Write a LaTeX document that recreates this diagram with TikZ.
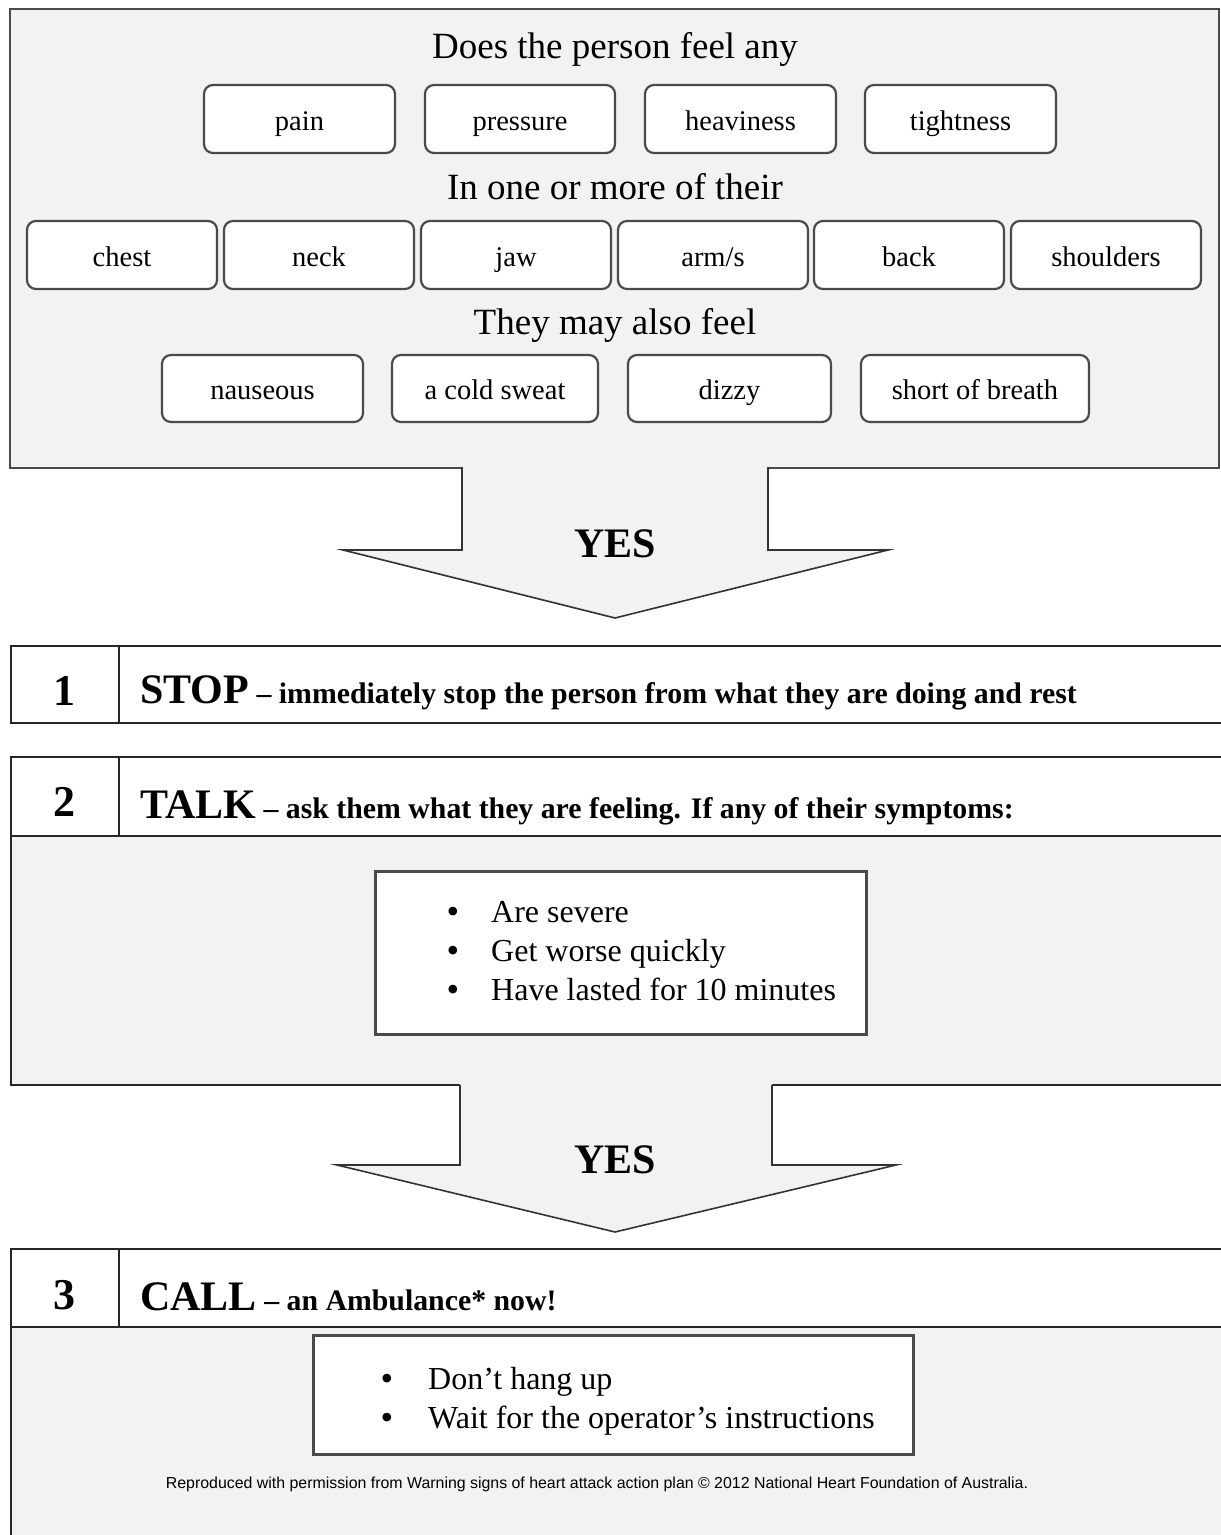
\documentclass[tikz,border=0pt]{standalone}
\usepackage{fontspec}
\setmainfont{Liberation Serif}
\newfontfamily\footfont{Liberation Sans}
\definecolor{panel}{HTML}{F2F2F2}
\definecolor{edge}{HTML}{4A4A4A}
\tikzset{
  pill/.style={draw=edge, line width=2.2pt, rounded corners=9pt, fill=white, inner sep=0pt,
    font=\fontsize{28.5}{30}\selectfont, text height=24pt, text depth=2pt, minimum height=68pt},
  hdr/.style={font=\fontsize{37}{40}\selectfont, anchor=base, inner sep=0pt},
  yes/.style={font=\bfseries\fontsize{42}{42}\selectfont, anchor=base, inner sep=0pt},
  num/.style={font=\bfseries\fontsize{44}{44}\selectfont, anchor=base, inner sep=0pt},
  steptxt/.style={anchor=base west, inner sep=0pt},
  item/.style={font=\fontsize{32}{34}\selectfont, anchor=base west, inner sep=0pt},
  bul/.style={font=\fontsize{36}{36}\selectfont, anchor=base, inner sep=0pt},
  rowline/.style={draw=black!85, line width=2pt},
  arrowshape/.style={fill=panel, draw=black!80, line width=1.6pt, line join=miter},
  listbox/.style={draw=edge, line width=3pt, fill=white, inner sep=0pt, anchor=north west}
}
\newcommand{\kw}[1]{{\fontsize{42}{42}\selectfont\bfseries #1}}
\newcommand{\rest}[1]{{\fontsize{29.8}{30}\selectfont\bfseries #1}}
\begin{document}
\begin{tikzpicture}[x=1pt,y=-1pt]
\useasboundingbox (0,0) rectangle (1221,1535);
% top panel
\node[draw=edge, line width=1.6pt, fill=panel, anchor=north west, inner sep=0pt,
  minimum width=1209pt, minimum height=459pt] (toppanel) at (9,8) {};
\node[hdr] (q1) at (615,58) {Does the person feel any};
\node[pill, minimum width=191pt] (pain) at (299.5,119) {pain};
\node[pill, minimum width=190pt] (pressure) at (520,119) {pressure};
\node[pill, minimum width=191pt] (heaviness) at (740.5,119) {heaviness};
\node[pill, minimum width=191pt] (tightness) at (960.5,119) {tightness};
\node[hdr] (q2) at (615,199) {In one or more of their};
\node[pill, minimum width=190pt] (chest) at (122,255) {chest};
\node[pill, minimum width=190pt] (neck) at (319,255) {neck};
\node[pill, minimum width=190pt] (jaw) at (516,255) {jaw};
\node[pill, minimum width=190pt] (arms) at (713,255) {arm/s};
\node[pill, minimum width=190pt] (back) at (909,255) {back};
\node[pill, minimum width=190pt] (shoulders) at (1106,255) {shoulders};
\node[hdr] (q3) at (615,334) {They may also feel};
\node[pill, minimum width=201pt, minimum height=67pt] (nauseous) at (262.5,388.5) {nauseous};
\node[pill, minimum width=206pt, minimum height=67pt] (sweat) at (495,388.5) {a cold sweat};
\node[pill, minimum width=203pt, minimum height=67pt] (dizzy) at (729.5,388.5) {dizzy};
\node[pill, minimum width=228pt, minimum height=67pt] (breath) at (975,388.5) {short of breath};
% arrow 1
\fill[panel] (463,462) rectangle (767,470);
\draw[arrowshape] (462,467) -- (462,550) -- (343,550) -- (615,618) -- (888,550) -- (768,550) -- (768,467);
\node[yes] (yes1) at (615,557) {YES};
% step 1
\draw[rowline, fill=white] (1230,646) -- (11,646) -- (11,723) -- (1230,723);
\draw[rowline] (119,646) -- (119,723);
\node[num] (n1) at (64,705) {1};
\node[steptxt] (s1) at (140,703) {\kw{STOP}\rest{ – immediately stop the person from what they are doing and rest}};
% step 2
\fill[white] (11,757) rectangle (1230,836);
\fill[panel] (11,836) rectangle (1230,1085);
\draw[rowline] (1230,757) -- (11,757) -- (11,1085) -- (460,1085);
\draw[rowline] (772,1085) -- (1230,1085);
\draw[rowline] (11,836) -- (1230,836);
\draw[rowline] (119,757) -- (119,836);
\node[num] (n2) at (64,816) {2};
\node[steptxt] (s2) at (140,818) {\kw{TALK}\rest{ – ask them what they are feeling. If any of their symptoms:}};
\node[listbox, minimum width=491pt, minimum height=163pt] (list1) at (374,870) {};
\node[bul] (b11) at (453,923) {•};
\node[item] (i11) at (491,922) {Are severe};
\node[bul] (b12) at (453,962) {•};
\node[item] (i12) at (491,961) {Get worse quickly};
\node[bul] (b13) at (453,1001) {•};
\node[item] (i13) at (491,1000) {Have lasted for 10 minutes};
% arrow 2
\draw[arrowshape] (460,1085) -- (460,1165) -- (337,1165) -- (615,1232) -- (896,1165) -- (772,1165) -- (772,1085);
\node[yes] (yes2) at (615,1173) {YES};
% step 3
\fill[white] (11,1249) rectangle (1230,1327);
\fill[panel] (11,1327) rectangle (1230,1540);
\draw[rowline] (1230,1249) -- (11,1249) -- (11,1540);
\draw[rowline] (11,1327) -- (1230,1327);
\draw[rowline] (119,1249) -- (119,1327);
\node[num] (n3) at (64,1309) {3};
\node[steptxt] (s3) at (140,1310) {\kw{CALL}\rest{ – an Ambulance* now!}};
\node[listbox, minimum width=600pt, minimum height=119pt] (list2) at (312,1334) {};
\node[bul] (b21) at (387,1390) {•};
\node[item] (i21) at (428,1389) {Don’t hang up};
\node[bul] (b22) at (387,1429) {•};
\node[item] (i22) at (428,1428) {Wait for the operator’s instructions};
\node[anchor=base, inner sep=0pt, font=\footfont\fontsize{15.9}{16}\selectfont] (foot) at (597,1488)
  {Reproduced with permission from Warning signs of heart attack action plan © 2012 National Heart Foundation of Australia.};
\end{tikzpicture}
\end{document}
